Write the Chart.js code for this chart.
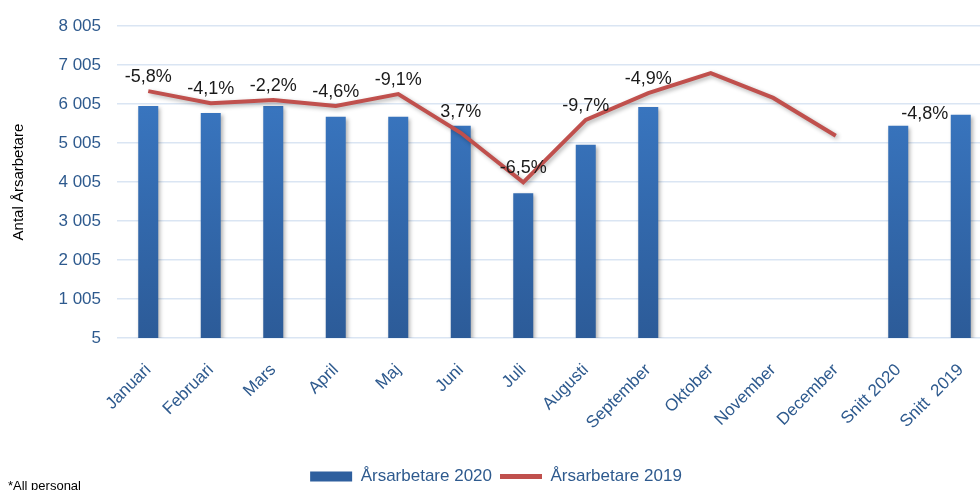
<!DOCTYPE html>
<html>
<head>
<meta charset="utf-8">
<script src="https://cdn.jsdelivr.net/npm/chart.js@4"></script>
<style>
  html, body { margin: 0; padding: 0; background: #fff; overflow: hidden; }
  #wrap { width: 1000px; height: 490px; }
</style>
</head>
<body>
<div id="wrap"><canvas id="chart" width="1000" height="490"></canvas></div>
<script>
// Data
const categories = ['Januari', 'Februari', 'Mars', 'April', 'Maj', 'Juni', 'Juli', 'Augusti',
  'September', 'Oktober', 'November', 'December', 'Snitt 2020', 'Snitt  2019'];
const values2020 = [5960, 5780, 5960, 5680, 5680, 5450, 3720, 4965, 5930, 0, 0, 0, 5450, 5730];
const values2019 = [6340, 6030, 6110, 5960, 6265, 5270, 4000, 5600, 6290, 6800, 6165, 5195, null, null];
const changeLabels = ['-5,8%', '-4,1%', '-2,2%', '-4,6%', '-9,1%', '3,7%', '-6,5%', '-9,7%', '-4,9%',
  '', '', '', '-4,8%', ''];
const yMin = 5;
const yMax = 8005;
const yStep = 1000;

const FONT = "'Liberation Sans', Arial, sans-serif";
const BLUE_TEXT = '#2E5A8E';
const RED = '#C0504D';

// Gradient for bars
const barGradient = (ctx) => {
  const chart = ctx.chart;
  const area = chart.chartArea;
  if (!area) return '#3472BE';
  const g = chart.ctx.createLinearGradient(0, area.top, 0, area.bottom);
  g.addColorStop(0, '#3D7ECC');
  g.addColorStop(1, '#2C5B98');
  return g;
};

// Formatting of ticks: "8 005"
const formatTick = (v) => String(v).replace(/\B(?=(\d{3})+(?!\d))/g, ' ');

// Shadow under datasets
const shadowPlugin = {
  id: 'shadow',
  beforeDatasetDraw(chart) {
    const ctx = chart.ctx;
    ctx.save();
    ctx.shadowColor = 'rgba(0,0,0,0.30)';
    ctx.shadowBlur = 4;
    ctx.shadowOffsetX = 2;
    ctx.shadowOffsetY = 2;
  },
  afterDatasetDraw(chart) {
    chart.ctx.restore();
  }
};

// Percent labels and footnote
const labelPlugin = {
  id: 'changeLabels',
  afterDatasetsDraw(chart) {
    const ctx = chart.ctx;
    const barMeta = chart.getDatasetMeta(0);
    const lineMeta = chart.getDatasetMeta(1);
    ctx.save();
    ctx.font = `18px ${FONT}`;
    ctx.fillStyle = '#1a1a1a';
    ctx.textBaseline = 'middle';
    changeLabels.forEach((txt, i) => {
      if (!txt) return;
      const bar = barMeta.data[i];
      const pt = lineMeta.data[i];
      if (values2019[i] != null) {
        const top = Math.min(bar.y, pt.y);
        ctx.textAlign = 'center';
        ctx.fillText(txt, bar.x, top - 14);
      } else {
        ctx.textAlign = 'left';
        ctx.fillText(txt, bar.x + 3, bar.y - 12);
      }
    });
    ctx.font = `13px ${FONT}`;
    ctx.fillStyle = '#000';
    ctx.textAlign = 'left';
    ctx.fillText('*All personal', 8, 486);
    ctx.restore();
  }
};

const ctx = document.getElementById('chart').getContext('2d');
new Chart(ctx, {
  data: {
    labels: categories,
    datasets: [
      {
        type: 'bar',
        label: 'Årsarbetare 2020',
        data: values2020,
        backgroundColor: barGradient,
        borderColor: '#5B8FD6',
        borderWidth: 0,
        barPercentage: 0.64,
        categoryPercentage: 0.5,
        order: 1
      },
      {
        type: 'line',
        label: 'Årsarbetare 2019',
        data: values2019,
        borderColor: RED,
        backgroundColor: RED,
        borderWidth: 4,
        pointRadius: 0,
        tension: 0,
        spanGaps: false,
        order: 0
      }
    ]
  },
  options: {
    responsive: false,
    animation: false,
    layout: { padding: { top: 22, right: 8, left: 0, bottom: -5 } },
    plugins: {
      tooltip: { enabled: false },
      legend: {
        position: 'bottom',
        labels: {
          usePointStyle: true,
          pointStyleWidth: 42,
          boxHeight: 10,
          boxWidth: 42,
          padding: 8,
          color: BLUE_TEXT,
          font: { family: FONT, size: 17 },
          generateLabels(chart) {
            return chart.data.datasets.map((ds, i) => ({
              text: ds.label,
              datasetIndex: i,
              pointStyle: ds.type === 'bar' ? 'rect' : 'line',
              fillStyle: ds.type === 'bar' ? '#2E5F9E' : RED,
              strokeStyle: ds.type === 'bar' ? '#2E5F9E' : RED,
              lineWidth: ds.type === 'bar' ? 0 : 5,
              fontColor: BLUE_TEXT
            }));
          }
        }
      }
    },
    scales: {
      x: {
        grid: { display: false },
        border: { display: false },
        ticks: {
          color: BLUE_TEXT,
          font: { family: FONT, size: 17 },
          minRotation: 45,
          maxRotation: 45,
          autoSkip: false,
          padding: 14
        },
        afterFit(scale) { scale.height = 122; }
      },
      y: {
        min: yMin,
        max: yMax,
        grid: { color: '#DAE5F3', lineWidth: 1.5, drawTicks: false },
        border: { display: false },
        ticks: {
          stepSize: yStep,
          color: BLUE_TEXT,
          font: { family: FONT, size: 17 },
          padding: 16,
          callback: (v) => formatTick(v)
        },
        title: {
          display: true,
          text: 'Antal Årsarbetare',
          color: '#000',
          font: { family: FONT, size: 15 },
          padding: { top: 10, bottom: 0 }
        },
        afterFit(scale) { scale.width = 117; }
      }
    }
  },
  plugins: [shadowPlugin, labelPlugin]
});
</script>
</body>
</html>
